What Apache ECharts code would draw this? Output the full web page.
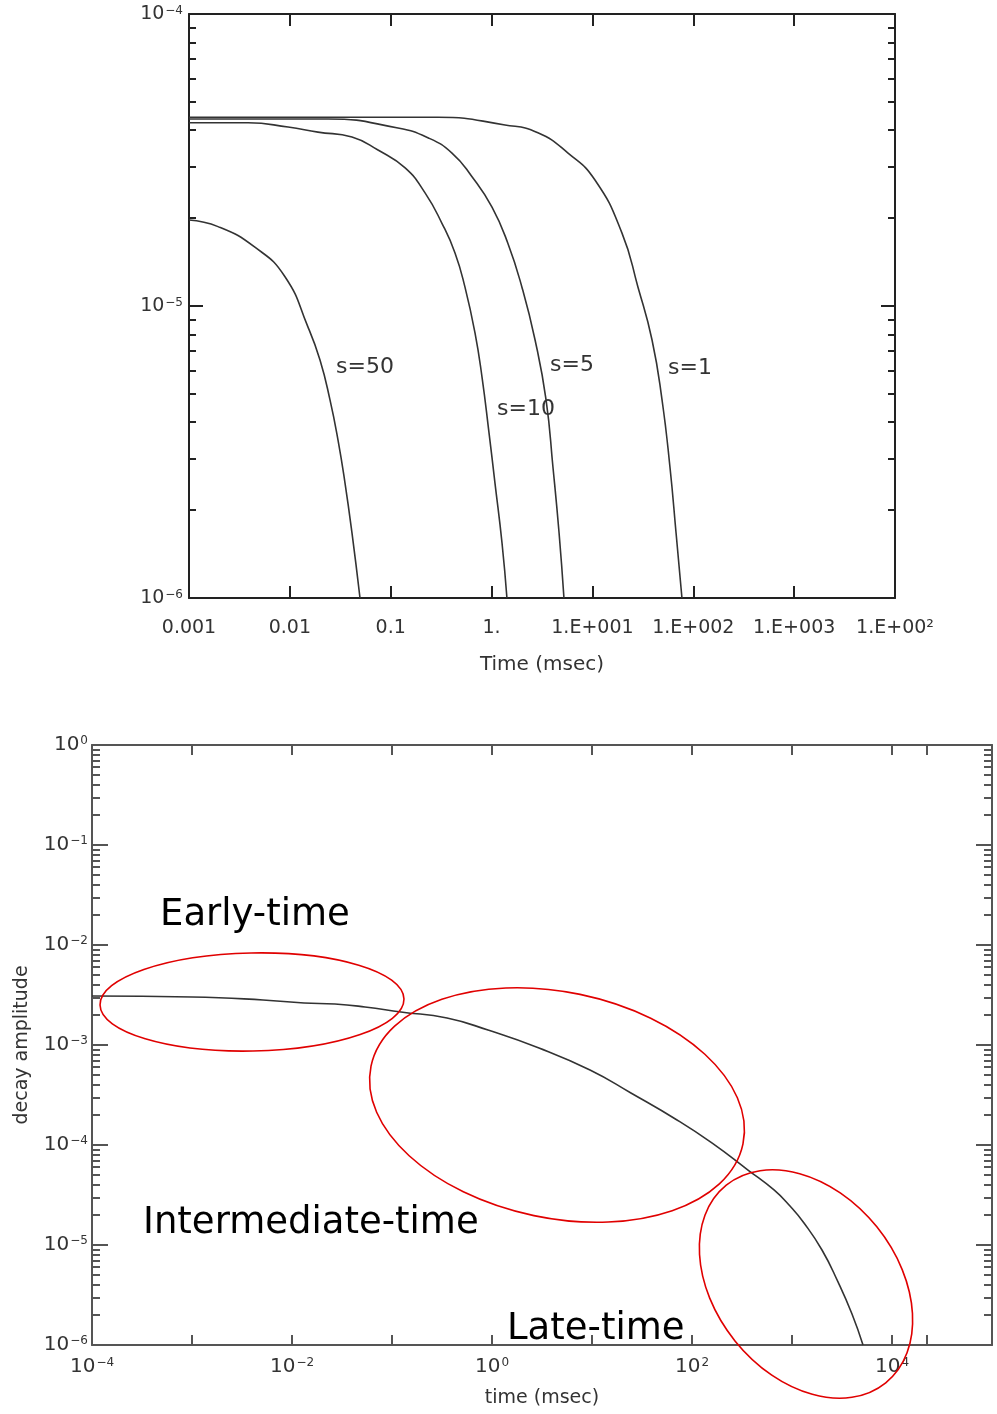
<!DOCTYPE html>
<html>
<head>
<meta charset="utf-8">
<script src="https://cdn.jsdelivr.net/npm/echarts@6/dist/echarts.min.js"></script>
<style>
  html, body { margin: 0; padding: 0; background: #fff; }
  #chart { width: 997px; height: 1414px; }
</style>
</head>
<body>
<div id="chart"></div>
<script>
// top chart: decay curves for different s
const s1Time = [0.001, 0.294, 1.36, 2.88, 5.73, 10.6, 19.6, 28.3, 39.0, 49.0, 58.7, 67.5, 77.2];
const s1Amp = [4.43e-5, 4.43e-5, 4.17e-5, 3.92e-5, 3.34e-5, 2.70e-5, 1.78e-5, 1.16e-5, 7.65e-6, 4.77e-6, 2.81e-6, 1.67e-6, 1e-6];
const s5Time = [0.001, 0.0239, 0.118, 0.234, 0.405, 0.640, 1.01, 1.45, 2.00, 2.70, 3.47, 4.06, 4.67, 5.22];
const s5Amp = [4.37e-5, 4.37e-5, 4.07e-5, 3.77e-5, 3.34e-5, 2.77e-5, 2.18e-5, 1.64e-5, 1.16e-5, 7.65e-6, 4.77e-6, 2.81e-6, 1.67e-6, 1e-6];
const s10Time = [0.001, 0.00385, 0.0096, 0.019, 0.0413, 0.0748, 0.139, 0.219, 0.322, 0.434, 0.545, 0.685, 0.804, 0.944, 1.08, 1.27, 1.42];
const s10Amp = [4.24e-5, 4.24e-5, 4.10e-5, 3.94e-5, 3.79e-5, 3.42e-5, 2.97e-5, 2.44e-5, 1.92e-5, 1.52e-5, 1.16e-5, 8.09e-6, 5.71e-6, 3.67e-6, 2.48e-6, 1.54e-6, 1e-6];
const s50Time = [0.001, 0.00194, 0.0045, 0.00895, 0.0151, 0.0199, 0.025, 0.030, 0.0352, 0.0413, 0.0496];
const s50Amp = [1.97e-5, 1.87e-5, 1.59e-5, 1.26e-5, 8.48e-6, 6.53e-6, 4.77e-6, 3.48e-6, 2.48e-6, 1.67e-6, 1e-6];
const curveNames = ['s=1', 's=5', 's=10', 's=50'];

// bottom chart: single decay
const decayTime = [0.0001, 0.001, 0.00513, 0.0132, 0.0269, 0.0537, 0.123, 0.355, 0.912, 2.95, 9.55, 24.5, 70.8, 158, 363, 661, 955, 1318, 1995, 2884, 3981, 5129];
const decayAmp = [3.09e-3, 3.02e-3, 2.82e-3, 2.63e-3, 2.57e-3, 2.40e-3, 2.14e-3, 1.86e-3, 1.41e-3, 9.33e-4, 5.62e-4, 3.31e-4, 1.78e-4, 1.05e-4, 5.62e-5, 3.55e-5, 2.45e-5, 1.66e-5, 8.91e-6, 4.27e-6, 2.04e-6, 1e-6];
const regionNames = ['Early-time', 'Intermediate-time', 'Late-time'];

// tick values and labels
const topXTicks = [0.001, 0.01, 0.1, 1, 10, 100, 1000, 10000];
const topXLabels = ['0.001', '0.01', '0.1', '1.', '1.E+001', '1.E+002', '1.E+003', '1.E+00²'];
const topYTicks = [1e-6, 1e-5, 1e-4];
const topYExp = ['−6', '−5', '−4'];
const botXTicks = [1e-4, 1e-3, 1e-2, 1e-1, 1, 10, 100, 1000, 1e4, 2.24e4];
const botXLabelTicks = [1e-4, 1e-2, 1, 100, 1e4];
const botXExp = ['−4', '−2', '0', '2', '4'];
const botYTicks = [1e-6, 1e-5, 1e-4, 1e-3, 1e-2, 1e-1, 1];
const botYExp = ['−6', '−5', '−4', '−3', '−2', '−1', '0'];

function minorTicks(decades) {
  const out = [];
  decades.forEach(function (d) {
    for (let k = 2; k <= 9; k++) out.push(k * d);
  });
  return out;
}
const topYMinor = minorTicks([1e-6, 1e-5]);
const botYMinor = minorTicks([1e-6, 1e-5, 1e-4, 1e-3, 1e-2, 1e-1]);

function findIdx(ticks, v) {
  for (let i = 0; i < ticks.length; i++) {
    if (Math.abs(Math.log10(ticks[i]) - Math.log10(v)) < 1e-6) return i;
  }
  return -1;
}
function zip(a, b) {
  return a.map(function (x, i) { return [x, b[i]]; });
}

const FONT = 'DejaVu Sans';
const topColor = '#222';
const botColor = '#555';

function tickAxis(opts) {
  return Object.assign({
    type: 'log',
    logBase: 10,
    axisLine: { show: false },
    axisLabel: { show: false },
    splitLine: { show: false },
    axisTick: { show: true, inside: true }
  }, opts);
}

const chart = echarts.init(document.getElementById('chart'));

function supRich(size) {
  return {
    base: { fontFamily: FONT, fontSize: size, color: '#333' },
    sup: { fontFamily: FONT, fontSize: Math.round(size * 0.62), color: '#333', verticalAlign: 'top', padding: [0, 0, Math.round(size * 0.35), 1] }
  };
}

chart.setOption({
  animation: false,
  backgroundColor: '#fff',
  grid: [
    { left: 189, top: 14, width: 706, height: 584 },
    { left: 92, top: 745, width: 900, height: 600 }
  ],
  xAxis: [
    // top chart bottom axis
    tickAxis({
      gridIndex: 0, position: 'bottom', min: 0.001, max: 10000,
      axisLine: { show: true, lineStyle: { color: topColor, width: 2 } },
      axisTick: { show: true, inside: true, length: 12, customValues: topXTicks, lineStyle: { color: topColor, width: 2 } },
      axisLabel: {
        show: true, customValues: topXTicks, margin: 21,
        fontFamily: FONT, fontSize: 19, color: '#333',
        formatter: function (v) { return topXLabels[findIdx(topXTicks, v)]; }
      },
      name: 'Time (msec)', nameLocation: 'middle', nameGap: 57,
      nameTextStyle: { fontFamily: FONT, fontSize: 20, color: '#333' }
    }),
    tickAxis({
      gridIndex: 0, position: 'top', min: 0.001, max: 10000,
      axisLine: { show: true, lineStyle: { color: topColor, width: 2 } },
      axisTick: { show: true, inside: true, length: 12, customValues: topXTicks, lineStyle: { color: topColor, width: 2 } }
    }),
    // bottom chart
    tickAxis({
      gridIndex: 1, position: 'bottom', min: 1e-4, max: 1e5,
      axisLine: { show: true, lineStyle: { color: botColor, width: 2 } },
      axisTick: { show: true, inside: true, length: 10, customValues: botXTicks, lineStyle: { color: botColor, width: 2 } },
      axisLabel: {
        show: true, customValues: botXLabelTicks, margin: 12,
        fontFamily: FONT, fontSize: 20, color: '#333',
        rich: supRich(20),
        formatter: function (v) { return '{base|10}{sup|' + botXExp[findIdx(botXLabelTicks, v)] + '}'; }
      },
      name: 'time (msec)', nameLocation: 'middle', nameGap: 44,
      nameTextStyle: { fontFamily: FONT, fontSize: 19, color: '#333' }
    }),
    tickAxis({
      gridIndex: 1, position: 'top', min: 1e-4, max: 1e5,
      axisLine: { show: true, lineStyle: { color: botColor, width: 2 } },
      axisTick: { show: true, inside: true, length: 10, customValues: botXTicks, lineStyle: { color: botColor, width: 2 } }
    })
  ],
  yAxis: [
    // top chart
    tickAxis({
      gridIndex: 0, position: 'left', min: 1e-6, max: 1e-4,
      axisLine: { show: true, lineStyle: { color: topColor, width: 2 } },
      axisTick: { show: true, inside: true, length: 14, customValues: topYTicks, lineStyle: { color: topColor, width: 2 } },
      axisLabel: {
        show: true, customValues: topYTicks, margin: 6,
        fontFamily: FONT, fontSize: 19, color: '#333',
        rich: supRich(19),
        formatter: function (v) { return '{base|10}{sup|' + topYExp[findIdx(topYTicks, v)] + '}'; }
      }
    }),
    tickAxis({
      gridIndex: 0, position: 'left', min: 1e-6, max: 1e-4,
      axisTick: { show: true, inside: true, length: 7, customValues: topYMinor, lineStyle: { color: topColor, width: 2 } }
    }),
    tickAxis({
      gridIndex: 0, position: 'right', min: 1e-6, max: 1e-4,
      axisLine: { show: true, lineStyle: { color: topColor, width: 2 } },
      axisTick: { show: true, inside: true, length: 14, customValues: topYTicks, lineStyle: { color: topColor, width: 2 } }
    }),
    tickAxis({
      gridIndex: 0, position: 'right', min: 1e-6, max: 1e-4,
      axisTick: { show: true, inside: true, length: 7, customValues: topYMinor, lineStyle: { color: topColor, width: 2 } }
    }),
    // bottom chart
    tickAxis({
      gridIndex: 1, position: 'left', min: 1e-6, max: 1,
      axisLine: { show: true, lineStyle: { color: botColor, width: 2 } },
      axisTick: { show: true, inside: true, length: 16, customValues: botYTicks, lineStyle: { color: botColor, width: 2 } },
      axisLabel: {
        show: true, customValues: botYTicks, margin: 4,
        fontFamily: FONT, fontSize: 20, color: '#333',
        rich: supRich(20),
        formatter: function (v) { return '{base|10}{sup|' + botYExp[findIdx(botYTicks, v)] + '}'; }
      },
      name: 'decay amplitude', nameLocation: 'middle', nameGap: 60, nameRotate: 90,
      nameTextStyle: { fontFamily: FONT, fontSize: 19, color: '#333' }
    }),
    tickAxis({
      gridIndex: 1, position: 'left', min: 1e-6, max: 1,
      axisTick: { show: true, inside: true, length: 8, customValues: botYMinor, lineStyle: { color: botColor, width: 2 } }
    }),
    tickAxis({
      gridIndex: 1, position: 'right', min: 1e-6, max: 1,
      axisLine: { show: true, lineStyle: { color: botColor, width: 2 } },
      axisTick: { show: true, inside: true, length: 16, customValues: botYTicks, lineStyle: { color: botColor, width: 2 } }
    }),
    tickAxis({
      gridIndex: 1, position: 'right', min: 1e-6, max: 1,
      axisTick: { show: true, inside: true, length: 8, customValues: botYMinor, lineStyle: { color: botColor, width: 2 } }
    })
  ],
  series: [
    { name: curveNames[0], data: zip(s1Time, s1Amp) },
    { name: curveNames[1], data: zip(s5Time, s5Amp) },
    { name: curveNames[2], data: zip(s10Time, s10Amp) },
    { name: curveNames[3], data: zip(s50Time, s50Amp) }
  ].map(function (s) {
    return Object.assign({
      type: 'line', xAxisIndex: 0, yAxisIndex: 0, showSymbol: false,
      smooth: 0.5,
      lineStyle: { color: '#333', width: 1.6 }
    }, s);
  }).concat([{
    name: 'decay', type: 'line', xAxisIndex: 2, yAxisIndex: 4, showSymbol: false,
    smooth: 0.5,
    data: zip(decayTime, decayAmp),
    lineStyle: { color: '#333', width: 1.6 }
  }]),
  graphic: [
    // curve labels
    { type: 'text', style: { text: curveNames[3], x: 336, y: 367, font: '22px ' + FONT, fill: '#333', verticalAlign: 'middle', textVerticalAlign: 'middle' } },
    { type: 'text', style: { text: curveNames[2], x: 497, y: 409, font: '22px ' + FONT, fill: '#333', verticalAlign: 'middle', textVerticalAlign: 'middle' } },
    { type: 'text', style: { text: curveNames[1], x: 550, y: 365, font: '22px ' + FONT, fill: '#333', verticalAlign: 'middle', textVerticalAlign: 'middle' } },
    { type: 'text', style: { text: curveNames[0], x: 668, y: 368, font: '22px ' + FONT, fill: '#333', verticalAlign: 'middle', textVerticalAlign: 'middle' } },
    // region annotations
    { type: 'ellipse', x: 252, y: 1002, rotation: 0.02, shape: { cx: 0, cy: 0, rx: 152, ry: 49 }, style: { fill: 'none', stroke: '#e00000', lineWidth: 1.6 }, z: 100 },
    { type: 'ellipse', x: 557, y: 1105, rotation: -0.206, shape: { cx: 0, cy: 0, rx: 190, ry: 113 }, style: { fill: 'none', stroke: '#e00000', lineWidth: 1.6 }, z: 100 },
    { type: 'ellipse', x: 806, y: 1284, rotation: -0.892, shape: { cx: 0, cy: 0, rx: 127, ry: 91 }, style: { fill: 'none', stroke: '#e00000', lineWidth: 1.6 }, z: 100 },
    { type: 'text', style: { text: regionNames[0], x: 160, y: 915, font: '37px ' + FONT, fill: '#000', verticalAlign: 'middle', textVerticalAlign: 'middle' }, z: 100 },
    { type: 'text', style: { text: regionNames[1], x: 143, y: 1223, font: '37px ' + FONT, fill: '#000', verticalAlign: 'middle', textVerticalAlign: 'middle' }, z: 100 },
    { type: 'text', style: { text: regionNames[2], x: 507, y: 1329, font: '37px ' + FONT, fill: '#000', verticalAlign: 'middle', textVerticalAlign: 'middle' }, z: 100 }
  ]
});
</script>
</body>
</html>
